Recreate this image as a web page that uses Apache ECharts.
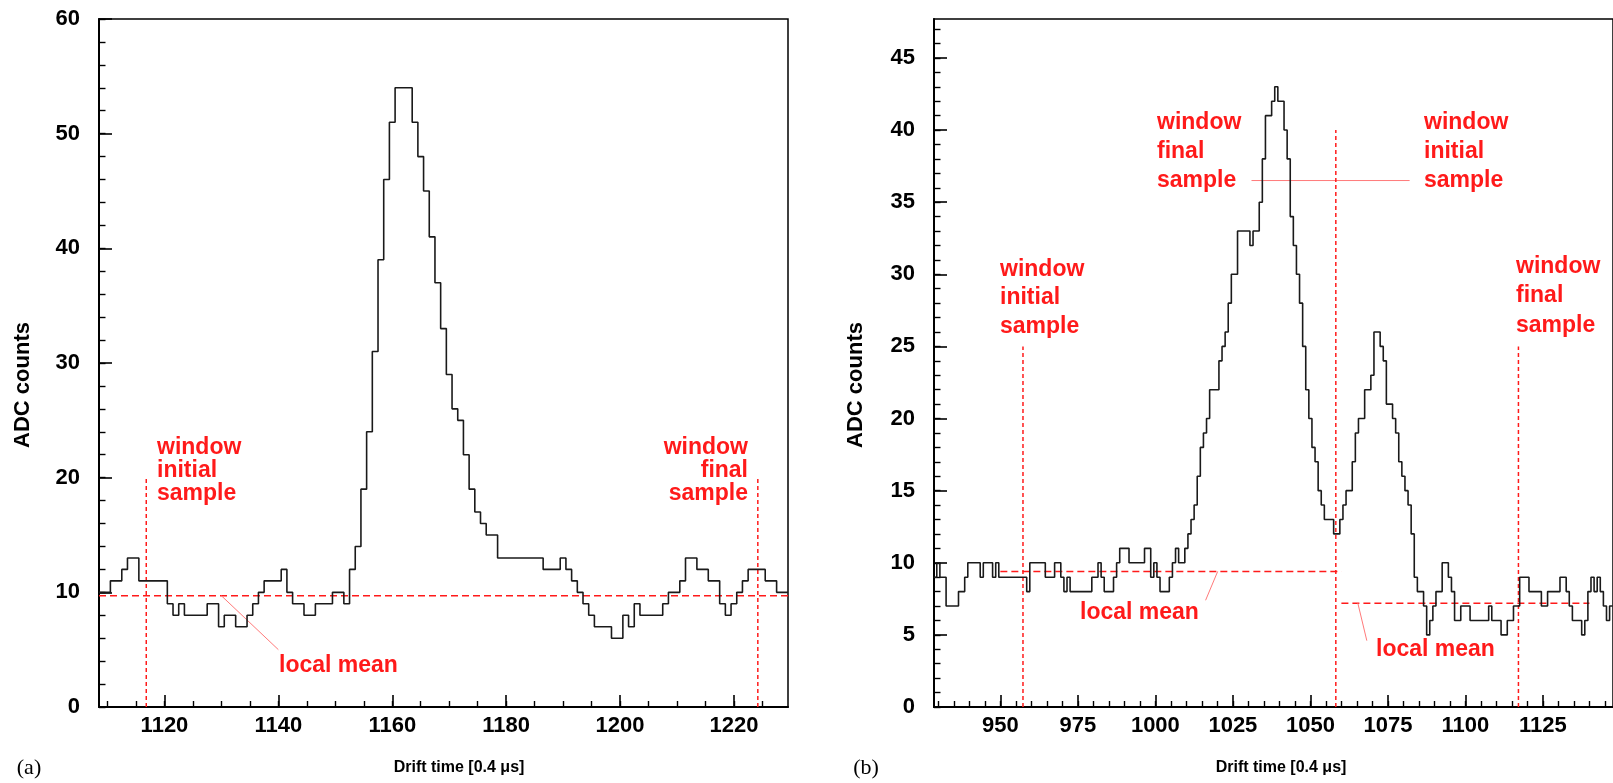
<!DOCTYPE html>
<html>
<head>
<meta charset="utf-8">
<script src="https://cdn.jsdelivr.net/npm/echarts@6/dist/echarts.min.js"></script>
<style>
html, body { margin: 0; padding: 0; background: #fff; }
#main { width: 1613px; height: 783px; }
</style>
</head>
<body>
<div id="main"></div>
<script>
// ---- (a) single pulse, one bin per sample, first bin centred on 1109
var leftFirst = 1109;
var leftCounts = [
    10, 10, 11, 11, 12, 13, 13, 11, 11, 11,
    11, 11, 9, 8, 9, 8, 8, 8, 8, 9,
    9, 7, 8, 8, 7, 7, 8, 9, 10, 11,
    11, 11, 12, 10, 9, 9, 8, 8, 9, 9,
    9, 10, 10, 9, 12, 14, 19, 24, 31, 39,
    46, 51, 54, 54, 54, 51, 48, 45, 41, 37,
    33, 29, 26, 25, 22, 19, 17, 16, 15, 15,
    13, 13, 13, 13, 13, 13, 13, 13, 12, 12,
    12, 13, 12, 11, 10, 9, 8, 7, 7, 7,
    6, 6, 8, 7, 9, 8, 8, 8, 8, 9,
    10, 10, 11, 13, 13, 12, 12, 11, 11, 9,
    8, 9, 10, 11, 12, 12, 12, 11, 11, 10,
    10
];

// ---- (b) two overlapping pulses, first bin centred on 929
var rightFirst = 929;
var rightCounts = [
    9, 10, 9, 9, 7, 7, 7, 7, 8, 8,
    9, 10, 10, 10, 10, 9, 10, 10, 10, 9,
    10, 9, 9, 9, 9, 9, 9, 9, 9, 9,
    8, 10, 10, 10, 10, 10, 9, 9, 9, 10,
    10, 9, 8, 9, 8, 8, 8, 8, 8, 8,
    8, 9, 9, 10, 9, 8, 8, 8, 9, 10,
    11, 11, 11, 10, 10, 10, 10, 10, 11, 11,
    9, 10, 9, 8, 8, 8, 9, 10, 11, 10,
    10, 11, 12, 13, 14, 16, 18, 19, 20, 22,
    22, 22, 24, 25, 26, 28, 30, 30, 33, 33,
    33, 33, 32, 33, 33, 35, 38, 41, 41, 42,
    43, 42, 42, 40, 38, 34, 32, 30, 28, 25,
    22, 20, 18, 17, 15, 14, 13, 13, 13, 12,
    12, 13, 14, 15, 15, 17, 19, 20, 20, 22,
    22, 23, 26, 26, 25, 24, 21, 21, 20, 19,
    17, 16, 15, 14, 12, 9, 8, 8, 7, 5,
    6, 7, 8, 8, 10, 10, 9, 8, 6, 6,
    7, 7, 7, 6, 6, 6, 6, 6, 6, 7,
    6, 6, 6, 5, 5, 6, 6, 7, 7, 9,
    9, 9, 8, 8, 8, 8, 7, 7, 8, 8,
    8, 8, 9, 9, 8, 7, 6, 6, 6, 5,
    6, 8, 9, 8, 9, 8, 7, 6, 7
];

// axis ranges and tick labels
var leftXRange = [1108.5, 1229.5];
var leftYRange = [0, 60];
var rightXRange = [928.6, 1147.6];
var rightYRange = [0, 47.7];

var leftXTicks = [1120, 1140, 1160, 1180, 1200, 1220];
var leftYTicks = [0, 10, 20, 30, 40, 50, 60];
var rightXTicks = [950, 975, 1000, 1025, 1050, 1075, 1100, 1125];
var rightYTicks = [0, 5, 10, 15, 20, 25, 30, 35, 40, 45];

// annotation values (a)
var leftMean = 9.7;
var leftWindow = [1116.8, 1224.2];
var leftWindowTop = 20;
var leftMeanPointer = [[1130, 9.7], [1140, 5.0]];

// annotation values (b)
var rightMeans = [9.4, 7.2];
var rightMeanSpans = [[950, 1060], [1060, 1140]];
var rightWindowEdges = [957.3, 1058.2, 1117.1];
var rightWindowTops = [25, 40, 25];
var rightFinalInitPointer = [[1031, 36.5], [1082, 36.5]];
var rightMeanPointers = [
    [[1020.1, 9.4], [1016.2, 7.4]],
    [[1065.3, 7.2], [1068.2, 4.6]]
];

function histSteps(first, counts) {
    var pts = [];
    for (var i = 0; i < counts.length; i++) {
        pts.push([first - 0.5 + i, counts[i]]);
    }
    pts.push([first - 0.5 + counts.length, counts[counts.length - 1]]);
    return pts;
}

function minorValues(range, step) {
    var out = [];
    for (var v = Math.ceil(range[0] / step) * step; v <= range[1]; v += step) out.push(v);
    return out;
}

var FONT = '"Liberation Sans", Arial, Helvetica, sans-serif';
var RED = '#ff1a1a';
var plain = function (v) { return String(v); };

function majorX(grid, range, ticks) {
    return {
        type: 'value', gridIndex: grid, min: range[0], max: range[1], position: 'bottom',
        axisLine: { show: true, onZero: false, lineStyle: { color: '#000', width: 2 } },
        axisTick: { show: true, inside: true, length: 12, customValues: ticks, lineStyle: { color: '#000', width: 1.6 } },
        axisLabel: { show: true, customValues: ticks, formatter: plain, margin: 8, color: '#000', fontSize: 22, fontWeight: 'bold', fontFamily: FONT },
        splitLine: { show: false }
    };
}
function minorX(grid, range, step) {
    return {
        type: 'value', gridIndex: grid, min: range[0], max: range[1], position: 'bottom',
        axisLine: { show: false, onZero: false },
        axisTick: { show: true, inside: true, length: 6, customValues: minorValues(range, step), lineStyle: { color: '#000', width: 1.4 } },
        axisLabel: { show: false },
        splitLine: { show: false }
    };
}
function majorY(grid, range, ticks, margin) {
    return {
        type: 'value', gridIndex: grid, min: range[0], max: range[1], position: 'left',
        axisLine: { show: true, onZero: false, lineStyle: { color: '#000', width: 2 } },
        axisTick: { show: true, inside: true, length: 13, customValues: ticks, lineStyle: { color: '#000', width: 1.6 } },
        axisLabel: { show: true, customValues: ticks, formatter: plain, margin: margin, align: 'right', color: '#000', fontSize: 22, fontWeight: 'bold', fontFamily: FONT },
        splitLine: { show: false }
    };
}
function minorY(grid, range, step) {
    return {
        type: 'value', gridIndex: grid, min: range[0], max: range[1], position: 'left',
        axisLine: { show: false, onZero: false },
        axisTick: { show: true, inside: true, length: 6.5, customValues: minorValues(range, step), lineStyle: { color: '#000', width: 1.4 } },
        axisLabel: { show: false },
        splitLine: { show: false }
    };
}

function guide(xi, yi, pts, dash, width, color) {
    return {
        type: 'line', xAxisIndex: xi, yAxisIndex: yi, data: pts,
        symbol: 'none', silent: true, animation: false, z: 3,
        lineStyle: { color: color || RED, width: width || 1.5, type: dash || 'solid' }
    };
}

var series = [
    {
        type: 'line', xAxisIndex: 0, yAxisIndex: 0, step: 'end',
        data: histSteps(leftFirst, leftCounts), symbol: 'none', silent: true, animation: false, z: 4,
        lineStyle: { color: '#1a1a1a', width: 1.6 }
    },
    {
        type: 'line', xAxisIndex: 2, yAxisIndex: 2, step: 'end',
        data: histSteps(rightFirst, rightCounts), symbol: 'none', silent: true, animation: false, z: 4,
        lineStyle: { color: '#1a1a1a', width: 1.6 }
    },
    // (a) guides
    guide(0, 0, [[leftXRange[0], leftMean], [leftXRange[1], leftMean]], [7, 4]),
    guide(0, 0, [[leftWindow[0], 0], [leftWindow[0], leftWindowTop]], [4, 3]),
    guide(0, 0, [[leftWindow[1], 0], [leftWindow[1], leftWindowTop]], [4, 3]),
    guide(0, 0, leftMeanPointer, 'solid', 1, '#ff7a7a'),
    // (b) guides
    guide(2, 2, [[rightMeanSpans[0][0], rightMeans[0]], [rightMeanSpans[0][1], rightMeans[0]]], [7, 4]),
    guide(2, 2, [[rightMeanSpans[1][0], rightMeans[1]], [rightMeanSpans[1][1], rightMeans[1]]], [7, 4]),
    guide(2, 2, rightFinalInitPointer, 'solid', 1, '#ff7a7a'),
    guide(2, 2, rightMeanPointers[0], 'solid', 1, '#ff7a7a'),
    guide(2, 2, rightMeanPointers[1], 'solid', 1, '#ff7a7a')
];
rightWindowEdges.forEach(function (x, i) {
    series.push(guide(2, 2, [[x, 0], [x, rightWindowTops[i]]], [4, 3]));
});

function label(x, y, text, align, lh) {
    return {
        type: 'text', x: x, y: y, silent: true, z: 10,
        style: {
            text: text, fill: RED, font: 'bold 23px ' + FONT,
            align: align || 'left', textAlign: align || 'left',
            verticalAlign: 'middle', textVerticalAlign: 'middle',
            lineHeight: lh || 23
        }
    };
}
function blackText(x, y, text, font, rot) {
    return {
        type: 'text', x: x, y: y, rotation: rot || 0, silent: true, z: 10,
        style: {
            text: text, fill: '#000', font: font,
            align: 'center', textAlign: 'center',
            verticalAlign: 'middle', textVerticalAlign: 'middle'
        }
    };
}

var chart = echarts.init(document.getElementById('main'), null, { renderer: 'canvas' });
chart.setOption({
    backgroundColor: '#fff',
    animation: false,
    grid: [
        { left: 99, top: 19, width: 689, height: 688, show: true, borderColor: '#000', borderWidth: 1.5, containLabel: false },
        { left: 934, top: 19, width: 683, height: 688, show: true, borderColor: '#000', borderWidth: 1.5, containLabel: false }
    ],
    xAxis: [
        majorX(0, leftXRange, leftXTicks),
        minorX(0, leftXRange, 5),
        majorX(1, rightXRange, rightXTicks),
        minorX(1, rightXRange, 5)
    ],
    yAxis: [
        majorY(0, leftYRange, leftYTicks, 19),
        minorY(0, leftYRange, 2),
        majorY(1, rightYRange, rightYTicks, 19),
        minorY(1, rightYRange, 1)
    ],
    series: series,
    graphic: [
        // (a) labels
        label(157, 471, 'window\ninitial\nsample', 'left', 23),
        label(748, 471, 'window\nfinal\nsample', 'right', 23),
        label(279, 666, 'local mean', 'left'),
        // (b) labels
        label(1000, 298, 'window\ninitial\nsample', 'left', 28.5),
        label(1157, 152, 'window\nfinal\nsample', 'left', 29),
        label(1424, 152, 'window\ninitial\nsample', 'left', 29),
        label(1516, 296, 'window\nfinal\nsample', 'left', 29.5),
        label(1080, 613, 'local mean', 'left'),
        label(1376, 650, 'local mean', 'left'),
        // axis titles and panel tags
        blackText(23, 385, 'ADC counts', 'bold 22px ' + FONT, Math.PI / 2),
        blackText(856, 385, 'ADC counts', 'bold 22px ' + FONT, Math.PI / 2),
        blackText(459, 768, 'Drift time [0.4 \u03bcs]', 'bold 16px ' + FONT),
        blackText(1281, 768, 'Drift time [0.4 \u03bcs]', 'bold 16px ' + FONT),
        blackText(29, 768, '(a)', '22px "Liberation Serif", "Times New Roman", serif'),
        blackText(866, 768, '(b)', '22px "Liberation Serif", "Times New Roman", serif')
    ]
});
</script>
</body>
</html>
